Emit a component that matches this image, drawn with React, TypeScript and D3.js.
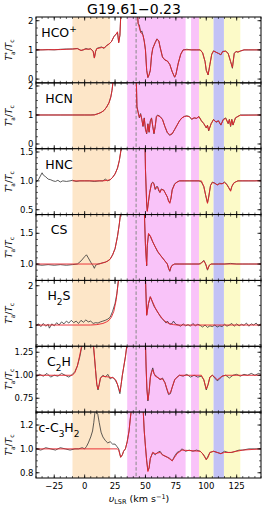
import React from 'react';
import * as d3 from 'd3';

type Pt = [number, number];

// velocity spans (km/s) of the shaded windows
const spanOrange: Pt = [-10, 21];
const spanMagenta: Pt[] = [[35, 83], [87.5, 94]];
const spanYellow: Pt[] = [[94, 106], [114.5, 128]];
const spanBlue: Pt = [106, 114.5];
const vDashed = 42.3;

const xTicks = [-25, 0, 25, 50, 75, 100, 125];

// HCO+
const hcopObs: Pt[] = [[-40,1.0],[-35,1.0],[-30,1.01],[-25,1.0],[-20,1.02],[-15,1.03],[-10,1.03],[-6,1.05],[-3,0.98],[-1,1.0],[1,1.05],[3,1.02],[5,1.04],[7,0.95],[8,0.72],[9,0.95],[10,1.05],[12,1.08],[14,1.1],[16,1.05],[18,1.15],[20,1.2],[22,1.28],[24,1.45],[26,1.55],[27,1.6],[28,1.25],[29,1.5],[30,2.5],[43,2.5],[44,1.9],[45,1.85],[46,1.6],[47,1.65],[48,1.5],[49,1.3],[50,1.0],[51,0.3],[52,0.05],[53,0.15],[54,0.3],[55,0.8],[56,1.05],[58,1.25],[59.5,1.38],[61,1.3],[62,1.1],[64,0.75],[66,0.65],[68,0.62],[70,0.5],[72,0.25],[74,0.06],[75,0.15],[77,0.55],[79,0.85],[81,1.0],[84,1.02],[88,1.0],[92,1.0],[95,1.0],[97,0.9],[99,0.6],[100,0.3],[101.5,0.14],[103,0.5],[104.5,0.85],[106,0.97],[108,0.92],[110,0.88],[112,0.83],[113.5,0.95],[116,0.96],[118,0.88],[120,0.6],[121.5,0.37],[123,0.88],[124.5,0.95],[126,0.92],[128,0.96],[131,1.0],[135,1.0],[140,1.0],[145,1.0]];
const hcopModel: Pt[] = [[-40,1.0],[-20,1.01],[-10,1.03],[-6,1.04],[-3,0.98],[0,1.02],[5,1.03],[7,0.95],[8,0.72],[9,0.95],[10,1.04],[14,1.08],[16,1.07],[18,1.14],[20,1.2],[22,1.28],[24,1.45],[26,1.55],[27,1.62],[28,1.25],[29,1.5],[30,2.5],[43,2.5],[44,1.9],[46,1.62],[48,1.5],[49,1.3],[50,1.0],[51,0.3],[52,0.06],[53,0.15],[54,0.3],[55,0.8],[56,1.05],[58,1.25],[59.5,1.37],[61,1.3],[62,1.1],[64,0.76],[66,0.66],[68,0.62],[70,0.5],[72,0.25],[74,0.07],[75,0.15],[77,0.55],[79,0.85],[81,1.0],[95,1.0],[97,0.9],[99,0.6],[100,0.3],[101.5,0.15],[103,0.5],[104.5,0.85],[106,0.96],[108,0.92],[110,0.88],[112,0.84],[113.5,0.94],[116,0.95],[118,0.88],[120,0.6],[121.5,0.4],[123,0.88],[124.5,0.94],[126,0.93],[128,0.96],[131,1.0],[145,1.0]];

// HCN
const hcnObs: Pt[] = [[-40,1.0],[-30,1.0],[-20,1.0],[-10,1.0],[0,1.0],[5,1.0],[8,1.01],[10,1.03],[12,1.06],[14,1.1],[16,1.16],[18,1.27],[20,1.42],[21.5,1.62],[22.5,1.85],[23.5,2.2],[42.5,2.2],[43,1.3],[44,1.1],[45,0.9],[46,1.05],[47,0.85],[48,0.6],[49,0.9],[50,0.5],[51,0.35],[52,0.7],[53,0.4],[54,0.8],[55,0.9],[56,0.6],[57,0.35],[58,0.6],[59,0.95],[60,1.0],[62,0.95],[64,0.85],[66,0.6],[68,0.38],[70,0.3],[72,0.35],[74,0.5],[76,0.65],[78,0.8],[80,0.9],[82,0.95],[84,0.97],[86,0.95],[88,0.85],[90,0.9],[92,0.88],[94,0.95],[96,0.8],[98,0.7],[100,0.55],[101,0.65],[102,0.45],[104,0.7],[106,0.85],[108,0.75],[110,0.8],[112,0.65],[114,0.85],[116,0.9],[118,0.7],[119,0.85],[120,0.6],[121,0.85],[122,0.65],[124,0.9],[126,0.95],[128,1.0],[135,1.0],[145,1.0]];
const hcnModel: Pt[] = [[-40,1.0],[8,1.0],[10,1.03],[12,1.06],[14,1.1],[16,1.16],[18,1.27],[20,1.42],[21.5,1.62],[22.5,1.85],[23.5,2.2],[42.5,2.2],[43,1.25],[44,1.08],[45,0.92],[46,1.02],[47,0.86],[48,0.62],[49,0.88],[50,0.52],[51,0.37],[52,0.68],[53,0.42],[54,0.78],[55,0.88],[56,0.62],[57,0.37],[58,0.6],[59,0.93],[60,0.98],[62,0.94],[64,0.84],[66,0.6],[68,0.4],[70,0.32],[72,0.36],[74,0.5],[76,0.65],[78,0.8],[80,0.9],[82,0.95],[84,0.96],[86,0.94],[88,0.86],[90,0.9],[92,0.89],[94,0.94],[96,0.8],[98,0.7],[100,0.56],[101,0.64],[102,0.47],[104,0.7],[106,0.84],[108,0.76],[110,0.8],[112,0.66],[114,0.84],[116,0.88],[118,0.71],[119,0.84],[120,0.62],[121,0.84],[122,0.66],[124,0.9],[126,0.95],[128,0.99],[145,1.0]];

// HNC
const hncObs: Pt[] = [[-40,0.98],[-38,1.02],[-36,1.1],[-35,1.14],[-34,1.1],[-32,1.07],[-30,1.03],[-28,1.02],[-26,1.0],[-24,0.99],[-22,1.01],[-20,0.98],[-18,1.0],[-15,0.99],[-12,1.0],[-10,1.01],[-7,0.99],[-4,1.0],[0,1.0],[4,1.0],[8,0.99],[12,1.0],[15,1.0],[17,1.03],[19,1.0],[21,1.02],[23,1.06],[25,1.12],[27,1.22],[28.5,1.35],[30,1.55],[31,1.8],[49.5,1.8],[50,1.2],[51,0.6],[51.5,0.48],[52.5,0.65],[53.5,0.8],[55,0.96],[56,0.98],[57,0.95],[58,0.85],[59,0.9],[60,0.9],[61,0.82],[62,0.8],[63,0.86],[65,0.84],[66,0.8],[68,0.72],[69,0.65],[70,0.62],[71,0.7],[72,0.85],[74,0.95],[76,0.98],[78,1.0],[82,1.0],[86,1.0],[90,1.0],[94,1.0],[96,0.98],[98,0.9],[99.5,0.75],[101,0.62],[102,0.72],[103.5,0.92],[105,0.98],[107,0.96],[109,0.93],[111,0.96],[113,0.95],[115,0.98],[117,0.94],[118.5,0.88],[120,0.83],[121,0.9],[122.5,0.96],[124,0.98],[126,1.0],[130,1.0],[135,1.0],[140,1.0],[145,1.01]];
const hncModel: Pt[] = [[-10,1.0],[15,1.0],[19,1.01],[21,1.02],[23,1.06],[25,1.12],[27,1.22],[28.5,1.35],[30,1.55],[31,1.8],[49.5,1.8],[50,1.2],[51,0.6],[51.5,0.47],[52.5,0.64],[53.5,0.8],[55,0.95],[56,0.97],[57,0.94],[58,0.86],[60,0.89],[62,0.8],[63,0.85],[65,0.84],[66,0.8],[68,0.72],[69,0.65],[70,0.61],[71,0.7],[72,0.84],[74,0.94],[76,0.98],[78,1.0],[96,1.0],[98,0.9],[99.5,0.75],[101,0.61],[102,0.72],[103.5,0.92],[105,0.97],[107,0.96],[109,0.93],[111,0.95],[113,0.95],[115,0.97],[117,0.93],[118.5,0.88],[120,0.82],[121,0.9],[122.5,0.96],[124,0.98],[126,1.0],[145,1.0]];

// CS
const csObs: Pt[] = [[-40,0.99],[-35,0.98],[-30,0.99],[-25,0.98],[-20,0.99],[-15,0.98],[-10,0.99],[-6,1.0],[-3,1.05],[0,1.12],[1.5,1.15],[3,1.1],[5,1.03],[7,0.97],[8,0.93],[9,0.98],[11,1.0],[13,1.01],[15,1.02],[17,1.03],[19,1.05],[21,1.08],[23,1.15],[25,1.25],[27,1.45],[28.5,1.65],[30,1.9],[49,1.9],[50,1.3],[51,0.97],[51.5,1.3],[52.5,1.48],[54,1.45],[56,1.36],[58,1.28],[60,1.2],[62,1.15],[64,1.1],[66,1.05],[68,1.0],[69,0.93],[70,0.88],[71,0.95],[72,0.98],[74,1.0],[78,1.0],[82,1.0],[88,1.0],[94,1.0],[96,1.02],[98,1.06],[99.5,1.0],[101,0.9],[102.5,0.98],[104,1.0],[110,1.0],[115,1.0],[120,1.01],[125,1.0],[130,1.0],[135,1.0],[140,1.0],[145,1.0]];
const csModel: Pt[] = [[-40,1.0],[12,1.0],[15,1.02],[17,1.03],[19,1.05],[21,1.08],[23,1.15],[25,1.25],[27,1.45],[28.5,1.65],[30,1.9],[49,1.9],[50,1.3],[51,0.98],[51.5,1.3],[52.5,1.5],[54,1.46],[56,1.36],[58,1.28],[60,1.21],[62,1.15],[64,1.1],[66,1.05],[68,1.0],[69,0.93],[70,0.89],[71,0.95],[72,0.98],[74,1.0],[95,1.0],[98,1.05],[99.5,1.0],[101,0.91],[102.5,0.98],[104,1.0],[145,1.0]];

// H2S
const h2sObs: Pt[] = [[-40,0.98],[-38,1.03],[-36,0.96],[-34,1.04],[-32,0.97],[-30,1.02],[-29,0.92],[-27,1.03],[-25,0.98],[-23,1.06],[-21,1.0],[-19,1.08],[-17,1.03],[-15,1.1],[-13,1.05],[-11,1.12],[-9,1.06],[-7,1.1],[-5,1.04],[-3,1.12],[-1,1.07],[1,1.13],[3,1.08],[5,1.1],[7,1.04],[9,1.06],[11,1.05],[13,1.08],[15,1.1],[17,1.12],[19,1.15],[21,1.2],[23,1.35],[25,1.55],[26.5,1.8],[28,2.2],[50,2.2],[51,1.25],[52.5,1.55],[54,1.72],[55.5,1.6],[57,1.48],[59,1.38],[61,1.28],[63,1.18],[65,1.12],[67,1.05],[68,1.1],[70,1.02],[72,1.04],[73,1.1],[75,1.02],[77,1.0],[79,0.97],[81,1.03],[83,0.98],[85,1.01],[87,0.97],[89,1.04],[91,0.98],[93,1.02],[95,0.99],[97,0.95],[99,1.0],[101,0.94],[103,0.98],[105,0.96],[107,1.0],[109,0.95],[111,0.98],[113,0.96],[115,1.02],[117,0.97],[119,1.0],[121,1.04],[123,0.97],[125,1.03],[127,0.98],[129,1.02],[131,0.99],[133,1.05],[135,0.97],[137,1.03],[139,1.0],[141,1.05],[143,0.98],[145,1.03]];
const h2sModel: Pt[] = [[-40,1.0],[5,1.0],[10,1.01],[15,1.04],[18,1.08],[20,1.12],[22,1.2],[24,1.35],[26,1.65],[28,2.2],[50,2.2],[51,1.25],[52.5,1.55],[54,1.72],[56,1.58],[58,1.44],[60,1.33],[62,1.24],[64,1.16],[66,1.1],[68,1.06],[70,1.03],[73,1.01],[76,1.0],[145,1.0]];

// C2H
const c2hObs: Pt[] = [[-40,0.98],[-37,1.01],[-34,0.99],[-31,1.02],[-28,0.98],[-25,1.0],[-22,0.99],[-19,1.02],[-16,1.0],[-13,0.98],[-10,1.01],[-8,1.04],[-6,1.1],[-4,1.2],[-2.5,1.3],[-1,1.35],[7,1.35],[8,1.2],[9,1.05],[10,0.9],[11,0.84],[12,0.9],[13,0.97],[15,1.0],[17,0.98],[19,1.01],[21,0.96],[23,0.98],[25,0.95],[27,0.9],[28,0.85],[29,0.8],[30,0.9],[31,1.0],[32,1.08],[33.5,1.2],[35,1.35],[50,1.35],[50.5,1.1],[51.2,0.85],[52,0.72],[53,0.82],[54,0.98],[55,1.04],[56,1.08],[57,1.02],[58,1.0],[60,0.98],[62,0.95],[64,0.97],[66,0.92],[67.5,0.85],[69,0.79],[70.5,0.8],[72,0.87],[74,0.95],[76,0.98],[78,1.0],[81,0.99],[84,1.01],[87,0.98],[90,1.0],[93,0.98],[96,0.99],[98,0.95],[100,0.84],[101.5,0.9],[103,0.98],[105,1.0],[107,0.97],[109,0.94],[111,0.96],[113,0.99],[116,1.0],[119,0.97],[122,1.0],[125,1.01],[128,0.99],[131,1.01],[134,1.0],[137,1.02],[140,1.0],[143,1.02],[145,1.01]];
const c2hModel: Pt[] = [[-40,1.0],[-10,1.0],[-8,1.03],[-6,1.1],[-4,1.22],[-2.5,1.32],[-1,1.36],[7,1.36],[8,1.22],[9,1.05],[10,0.9],[11,0.85],[12,0.9],[13,0.97],[15,0.99],[20,0.98],[24,0.97],[26,0.94],[28,0.86],[29,0.82],[30,0.9],[31,1.0],[32,1.08],[33.5,1.2],[35,1.36],[50,1.36],[50.5,1.1],[51.2,0.85],[52,0.73],[53,0.82],[54,0.97],[55,1.03],[56,1.06],[57,1.02],[58,0.99],[62,0.96],[64,0.96],[66,0.92],[67.5,0.86],[69,0.8],[70.5,0.81],[72,0.87],[74,0.95],[76,0.98],[78,1.0],[96,1.0],[98,0.95],[100,0.85],[101.5,0.9],[103,0.98],[105,1.0],[107,0.98],[109,0.95],[111,0.97],[113,0.99],[116,1.0],[145,1.0]];

// c-C3H2
const cc3h2Obs: Pt[] = [[-40,1.0],[-36,0.99],[-32,1.01],[-28,1.0],[-24,0.99],[-20,1.01],[-16,1.0],[-12,0.99],[-8,1.0],[-5,1.0],[-2,1.01],[0,1.0],[1.5,1.02],[3,1.05],[5,1.1],[6.5,1.15],[7.5,1.22],[8.6,1.32],[10.8,1.29],[12,1.22],[13.5,1.14],[15,1.1],[17,1.07],[19,1.05],[21,1.06],[23,1.04],[25,1.04],[26.5,1.02],[28,1.0],[29.6,0.93],[31,0.95],[32,0.98],[33.5,1.0],[35,1.06],[36.5,1.15],[37.5,1.25],[38.6,1.35],[48,1.35],[49,1.15],[50,1.02],[51,0.9],[52,0.82],[53,0.84],[54,0.92],[56,0.97],[58,0.95],[60,0.97],[62,0.98],[64,0.95],[66,0.94],[68,0.93],[70,0.92],[72,0.9],[74,0.94],[76,0.97],[78,0.98],[80,1.0],[83,0.98],[86,0.99],[89,0.98],[92,0.99],[95,0.98],[97,0.96],[98.5,0.94],[100,0.91],[101.5,0.94],[103,0.97],[106,0.98],[109,0.97],[112,0.96],[115,0.98],[118,0.97],[121,0.97],[124,0.98],[127,0.99],[130,0.99],[135,1.0],[140,1.0],[145,1.0]];
const cc3h2Model: Pt[] = [[-40,1.0],[27,1.0],[28,0.99],[29.6,0.93],[31,0.95],[32,0.98],[33.5,1.0],[35,1.06],[36.5,1.15],[37.5,1.25],[38.6,1.35],[48,1.35],[49,1.15],[50,1.02],[51,0.9],[52,0.81],[53,0.84],[54,0.92],[56,0.97],[58,0.96],[62,0.97],[64,0.95],[68,0.93],[72,0.9],[74,0.93],[76,0.96],[80,0.99],[95,0.98],[97,0.96],[100,0.91],[101.5,0.93],[103,0.97],[106,0.98],[112,0.96],[115,0.97],[120,0.97],[125,0.98],[130,0.99],[145,1.0]];

interface Panel {
  key: string;
  label: React.ReactNode;
  obs: Pt[];
  model: Pt[];
  ylim: [number, number];
  major: number[];
  minor: number;
  fmt: string;
}

const sub = (s: string) => <tspan baselineShift="sub" fontSize="9">{s}</tspan>;

const panels: Panel[] = [
  { key: 'hcop', label: <>HCO<tspan baselineShift="super" fontSize="9">+</tspan></>, obs: hcopObs, model: hcopModel, ylim: [-0.13, 2.127], major: [0, 1, 2], minor: 0.25, fmt: 'd' },
  { key: 'hcn', label: <>HCN</>, obs: hcnObs, model: hcnModel, ylim: [-0.163, 2.108], major: [0, 1, 2], minor: 0.25, fmt: 'd' },
  { key: 'hnc', label: <>HNC</>, obs: hncObs, model: hncModel, ylim: [0.416, 1.557], major: [0.5, 1.0, 1.5], minor: 0.1, fmt: '.1f' },
  { key: 'cs', label: <>CS</>, obs: csObs, model: csModel, ylim: [0.733, 1.805], major: [1.0, 1.5], minor: 0.1, fmt: '.1f' },
  { key: 'h2s', label: <>H{sub('2')}S</>, obs: h2sObs, model: h2sModel, ylim: [0.459, 2.135], major: [1, 2], minor: 0.25, fmt: 'd' },
  { key: 'c2h', label: <>C{sub('2')}H</>, obs: c2hObs, model: c2hModel, ylim: [0.599, 1.315], major: [0.75, 1.0, 1.25], minor: 0.05, fmt: '.2f' },
  { key: 'cc3h2', label: <>c-C{sub('3')}H{sub('2')}</>, obs: cc3h2Obs, model: cc3h2Model, ylim: [0.756, 1.308], major: [0.8, 1.0, 1.2], minor: 0.05, fmt: '.1f' },
];

const W = 263, H = 506;
const X0 = 36, X1 = 261, TOP = 17, BOTTOM = 478;
const PH = (BOTTOM - TOP) / panels.length;
const FONT = 'DejaVu Sans, sans-serif';

const x = d3.scaleLinear().domain([-40, 145]).range([X0, X1]);
const xMinor = d3.range(-40, 146, 5);

function PanelView({ p, i }: { p: Panel; i: number }) {
  const top = TOP + i * PH;
  const bot = top + PH;
  const y = d3.scaleLinear().domain(p.ylim).range([bot, top]);
  const line = d3.line<Pt>().x(d => x(d[0])).y(d => y(d[1]));
  const fmt = d3.format(p.fmt);
  const minorTicks = d3.range(Math.ceil(p.ylim[0] / p.minor) * p.minor, p.ylim[1], p.minor);
  const span = (s: Pt, fill: string, k: string) => (
    <rect key={k} x={x(s[0])} y={top} width={x(s[1]) - x(s[0])} height={PH} fill={fill} />
  );
  const clipId = `clip-${p.key}`;
  return (
    <g>
      <defs>
        <clipPath id={clipId}><rect x={X0} y={top} width={X1 - X0} height={PH} /></clipPath>
      </defs>
      {span(spanOrange, '#fde6c8', 'o')}
      {spanMagenta.map((s, k) => span(s, '#f9c3f9', 'm' + k))}
      {spanYellow.map((s, k) => span(s, '#fcfac8', 'y' + k))}
      {span(spanBlue, '#c2c2f5', 'b')}
      <line x1={x(vDashed)} x2={x(vDashed)} y1={top} y2={bot} stroke="#888" strokeWidth={1} strokeDasharray="3.5,2" />
      <g clipPath={`url(#${clipId})`}>
        <path d={line(p.obs) || ''} fill="none" stroke="#333" strokeWidth={0.8} />
        <path d={line(p.model) || ''} fill="none" stroke="#e8202a" strokeWidth={0.9} />
      </g>
      {/* ticks, inward on all four sides */}
      {xMinor.map(v => (
        <g key={'xm' + v} stroke="#000" strokeWidth={0.6}>
          <line x1={x(v)} x2={x(v)} y1={bot} y2={bot - 2} />
          <line x1={x(v)} x2={x(v)} y1={top} y2={top + 2} />
        </g>
      ))}
      {xTicks.map(v => (
        <g key={'xM' + v} stroke="#000" strokeWidth={0.8}>
          <line x1={x(v)} x2={x(v)} y1={bot} y2={bot - 3.5} />
          <line x1={x(v)} x2={x(v)} y1={top} y2={top + 3.5} />
        </g>
      ))}
      {minorTicks.map(v => (
        <g key={'ym' + v} stroke="#000" strokeWidth={0.6}>
          <line x1={X0} x2={X0 + 2} y1={y(v)} y2={y(v)} />
          <line x1={X1} x2={X1 - 2} y1={y(v)} y2={y(v)} />
        </g>
      ))}
      {p.major.map(v => (
        <g key={'yM' + v}>
          <line x1={X0} x2={X0 + 3.5} y1={y(v)} y2={y(v)} stroke="#000" strokeWidth={0.8} />
          <line x1={X1} x2={X1 - 3.5} y1={y(v)} y2={y(v)} stroke="#000" strokeWidth={0.8} />
          <text x={X0 - 2.5} y={y(v)} dy="0.35em" textAnchor="end" fontSize={8.5} fontFamily={FONT}>{fmt(v)}</text>
        </g>
      ))}
      <rect x={X0} y={top} width={X1 - X0} height={PH} fill="none" stroke="#000" strokeWidth={1} />
      <text x={59} y={top + 19.8} textAnchor="middle" fontSize={12.5} fontFamily={FONT}>{p.label}</text>
      <text transform={`translate(12,${top + PH / 2}) rotate(-90)`} textAnchor="middle" fontSize={9} fontFamily={FONT}>
        <tspan fontStyle="italic">T</tspan>
        <tspan fontSize={6} dy={-3.5}>*</tspan>
        <tspan fontSize={6} dx={-3} dy={6}>a</tspan>
        <tspan dy={-2.5}>/</tspan>
        <tspan fontStyle="italic">T</tspan>
        <tspan fontSize={6} dy={2}>c</tspan>
      </text>
    </g>
  );
}

export default function App() {
  return (
    <svg width={W} height={H} style={{ display: 'block', position: 'absolute', left: 0, top: 0, background: '#fff' }}>
      <rect width={W} height={H} fill="#fff" />
      <text x={134} y={14} textAnchor="middle" fontSize={14} fontFamily={FONT}>G19.61−0.23</text>
      {panels.map((p, i) => <PanelView key={p.key} p={p} i={i} />)}
      {xTicks.map(v => (
        <text key={'xl' + v} x={x(v)} y={489} textAnchor="middle" fontSize={8.5} fontFamily={FONT}>
          {v < 0 ? '−' + Math.abs(v) : v}
        </text>
      ))}
      <text x={139} y={502} textAnchor="middle" fontSize={9.5} fontFamily={FONT}>
        <tspan fontStyle="italic">υ</tspan>
        <tspan fontSize={6.5} dy={2}>LSR</tspan>
        <tspan dy={-2}> (km s</tspan>
        <tspan fontSize={6.5} dy={-3.5}>−1</tspan>
        <tspan dy={3.5}>)</tspan>
      </text>
    </svg>
  );
}
